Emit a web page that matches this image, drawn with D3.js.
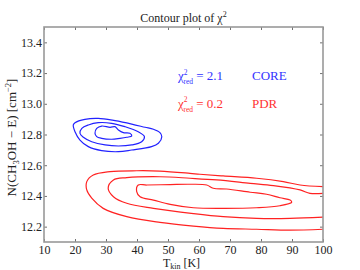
<!DOCTYPE html>
<html>
<head>
<meta charset="utf-8">
<script src="https://cdn.jsdelivr.net/npm/d3@7"></script>
<style>
  body { margin: 0; background: #fff; }
  svg text { font-family: "Liberation Serif", "DejaVu Serif", serif !important; }
</style>
</head>
<body>
<div id="chart"></div>
<script>
const W = 360, H = 270;
const MARGIN = { LEFT: 44, RIGHT: 37, TOP: 27, BOTTOM: 28 };
const WIDTH = W - MARGIN.LEFT - MARGIN.RIGHT;
const HEIGHT = H - MARGIN.TOP - MARGIN.BOTTOM;

// tick values
const xTicks = [10, 20, 30, 40, 50, 60, 70, 80, 90, 100];
const yTicks = [12.2, 12.4, 12.6, 12.8, 13.0, 13.2, 13.4];

// contour levels, [T_kin, N] pairs
const coreOuter = [[19.45,12.862],[20.0,12.877],[23.2,12.899],[27.5,12.905],[32.9,12.89],[38.3,12.868],[42.6,12.847],[45.3,12.834],[47.4,12.812],[48.0,12.786],[46.9,12.743],[44.7,12.721],[38.3,12.699],[34.0,12.688],[28.6,12.695],[24.3,12.721],[21.6,12.764],[20.0,12.818]];
const coreMid = [[21.6,12.808],[22.2,12.84],[24.3,12.862],[27.5,12.877],[31.8,12.873],[36.1,12.851],[40.4,12.818],[42.4,12.786],[41.5,12.753],[38.3,12.732],[34.0,12.725],[29.7,12.732],[25.4,12.753],[22.7,12.782]];
const coreInner = [[26.45,12.808],[27.0,12.84],[28.6,12.855],[31.3,12.847],[32.9,12.851],[34.0,12.829],[35.6,12.812],[37.7,12.808],[38.3,12.79],[36.7,12.782],[34.5,12.775],[31.8,12.769],[28.6,12.775],[27.0,12.786]];

const pdrOuter = [[100,12.46],[92.6,12.471],[87.2,12.493],[78.6,12.515],[67.8,12.53],[60.3,12.541],[57.1,12.547],[47.4,12.562],[39.9,12.564],[31.3,12.558],[25.9,12.536],[23.8,12.493],[23.8,12.439],[25.4,12.385],[29.1,12.319],[36.7,12.265],[47.4,12.228],[58.2,12.204],[67.8,12.189],[78.6,12.183],[89.4,12.177],[100,12.183]];
const pdrMid = [[100,12.417],[95.8,12.417],[92.6,12.439],[84.0,12.467],[76.5,12.482],[65.7,12.504],[57.1,12.515],[47.4,12.525],[36.7,12.519],[32.4,12.504],[30.7,12.45],[32.4,12.395],[36.7,12.352],[45.3,12.319],[58.2,12.285],[67.8,12.265],[78.6,12.254],[89.4,12.254],[100,12.262]];
const pdrInner = [[40.4,12.471],[39.9,12.428],[41.0,12.395],[45.3,12.373],[50.7,12.345],[58.2,12.323],[67.8,12.319],[78.6,12.323],[86.1,12.336],[89.9,12.359],[89.4,12.373],[86.1,12.388],[81.8,12.411],[76.5,12.424],[68.9,12.445],[64.6,12.45],[62.5,12.471],[57.1,12.476],[50.7,12.474],[43.1,12.471]];

// legend entries: chi2_red value, region name
const fitValues = ["2.1", "0.2"];
const fitNames = ["CORE", "PDR"];

const svg = d3.select("#chart").append("svg")
  .attr("width", W).attr("height", H);
const g = svg.append("g")
  .attr("transform", `translate(${MARGIN.LEFT},${MARGIN.TOP})`);

const x = d3.scaleLinear().domain([10, 100]).range([0, WIDTH]);
const y = d3.scaleLinear().domain([12.1, 13.5]).range([HEIGHT, 0]);

// contours
g.append("clipPath").attr("id", "clip")
  .append("rect").attr("width", WIDTH).attr("height", HEIGHT);
const closed = d3.line().x(d => x(d[0])).y(d => y(d[1])).curve(d3.curveCatmullRomClosed);
const open = d3.line().x(d => x(d[0])).y(d => y(d[1])).curve(d3.curveCatmullRom);
const cg = g.append("g").attr("clip-path", "url(#clip)")
  .attr("fill", "none").attr("stroke-width", 1.2);
[coreOuter, coreMid, coreInner].forEach(c =>
  cg.append("path").attr("d", closed(c)).attr("stroke", "#2222ff"));
cg.append("path").attr("d", open(pdrOuter)).attr("stroke", "#ff2222");
cg.append("path").attr("d", open(pdrMid)).attr("stroke", "#ff2222");
cg.append("path").attr("d", closed(pdrInner)).attr("stroke", "#ff2222");

// axes, ticks pointing inward
const fmt = d3.format(".1f");
const ax = [
  [d3.axisBottom(x).tickValues(xTicks).tickSize(-3).tickPadding(3), `translate(0,${HEIGHT})`],
  [d3.axisTop(x).tickValues(xTicks).tickSize(-3).tickFormat(""), null],
  [d3.axisLeft(y).tickValues(yTicks).tickSize(-3).tickPadding(2).tickFormat(fmt), null],
  [d3.axisRight(y).tickValues(yTicks).tickSize(-3).tickFormat(""), `translate(${WIDTH},0)`]
];
ax.forEach(([a, t]) => {
  const s = g.append("g").call(a).attr("font-family", null).attr("font-size", null);
  if (t) s.attr("transform", t);
  s.select(".domain").remove();
  s.selectAll("line").attr("stroke", "#333").attr("stroke-width", 0.7);
  s.selectAll("text").style("font-size", "12px").attr("fill", "#222");
});

g.append("rect").attr("width", WIDTH).attr("height", HEIGHT)
  .attr("fill", "none").attr("stroke", "#999").attr("stroke-width", 1.6);

// title
const title = svg.append("text").attr("x", MARGIN.LEFT + WIDTH / 2).attr("y", 22)
  .attr("text-anchor", "middle").style("font-size", "12px").attr("fill", "#222");
title.append("tspan").text("Contour plot of χ");
title.append("tspan").attr("dy", -5).style("font-size", "8px").text("2");

// x label
const xl = svg.append("text").attr("x", MARGIN.LEFT + WIDTH / 2 - 2).attr("y", 267)
  .attr("text-anchor", "middle").style("font-size", "12px").attr("fill", "#222");
xl.append("tspan").text("T");
xl.append("tspan").attr("dy", 2).style("font-size", "8px").text("kin");
xl.append("tspan").attr("dy", -2).text(" [K]");

// y label
const yl = svg.append("text")
  .attr("transform", `translate(16,${MARGIN.TOP + HEIGHT / 2 + 3}) rotate(-90)`)
  .attr("text-anchor", "middle").style("font-size", "13px").attr("fill", "#222");
yl.append("tspan").text("N(CH");
yl.append("tspan").attr("dy", 3).style("font-size", "8.5px").text("3");
yl.append("tspan").attr("dy", -3).text("OH − E) [cm");
yl.append("tspan").attr("dy", -5).style("font-size", "8.5px").text("−2");
yl.append("tspan").attr("dy", 5).text("]");

// legend text
const legendCols = ["#3333ff", "#ff3333"];
const legendY = [13.152, 12.973];
fitValues.forEach((v, i) => {
  const t = g.append("text").attr("x", x(53.2)).attr("y", y(legendY[i]))
    .style("font-size", "13px").attr("fill", legendCols[i]);
  t.append("tspan").text("χ");
  t.append("tspan").attr("dy", -5.5).style("font-size", "7.5px").text("2");
  t.append("tspan").attr("dx", -4).attr("dy", 9.5).style("font-size", "7.5px").text("red");
  t.append("tspan").attr("dy", -4).text(" = " + v);
  g.append("text").attr("x", x(77.1)).attr("y", y(legendY[i]))
    .style("font-size", "13px").attr("fill", legendCols[i]).text(fitNames[i]);
});
</script>
</body>
</html>
